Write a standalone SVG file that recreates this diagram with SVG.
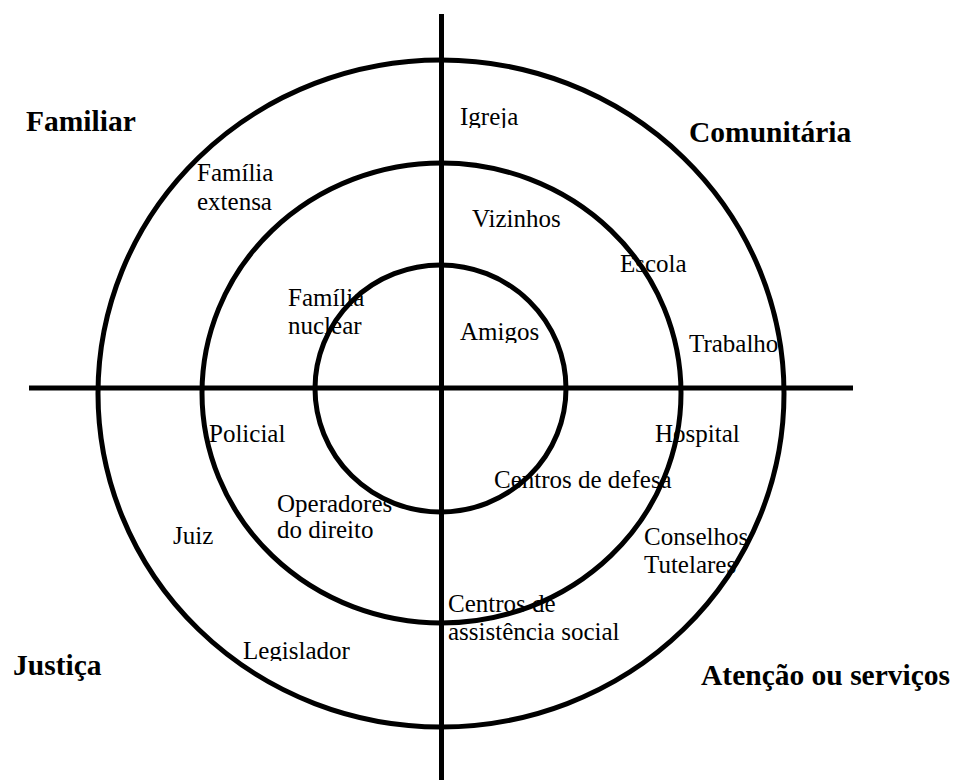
<svg xmlns="http://www.w3.org/2000/svg" width="956" height="780" viewBox="0 0 956 780">
<style>
.ring{fill:none;stroke:#000;stroke-width:5}
.axis{stroke:#000;stroke-width:5}
.lbl{font-family:"Liberation Serif","Times New Roman",serif;font-size:25px;fill:#000}
.sec{font-family:"Liberation Serif","Times New Roman",serif;font-size:29.5px;font-weight:bold;fill:#000}
</style>
<defs>
<clipPath id="cIgreja"><rect x="440" y="90" width="120" height="38"/></clipPath>
<clipPath id="cAmigos"><rect x="440" y="310" width="120" height="33"/></clipPath>
<clipPath id="cLeg"><rect x="230" y="630" width="150" height="31"/></clipPath>
</defs>
<g id="connectors">
<ellipse class="ring" cx="441" cy="393.5" rx="343" ry="333.5"/>
<ellipse class="ring" cx="441.5" cy="393" rx="239.5" ry="230"/>
<ellipse class="ring" cx="440.5" cy="388.5" rx="125.5" ry="123.5"/>
<line class="axis" x1="441.5" y1="14" x2="441.5" y2="780"/>
<line class="axis" x1="29" y1="388" x2="853" y2="388"/>
</g>
<g id="sector-familiar"><text class="sec" x="26" y="131">Familiar</text></g>
<g id="sector-comunitaria"><text class="sec" x="689" y="142">Comunitária</text></g>
<g id="sector-justica"><text class="sec" x="13" y="675">Justiça</text></g>
<g id="sector-atencao"><text class="sec" x="701" y="685">Atenção ou serviços</text></g>
<g id="igreja"><text class="lbl" x="460" y="125" clip-path="url(#cIgreja)">Igreja</text></g>
<g id="familia-extensa"><text class="lbl" x="197" y="181">Família</text><text class="lbl" x="197" y="210">extensa</text></g>
<g id="vizinhos"><text class="lbl" x="472" y="227">Vizinhos</text></g>
<g id="escola"><text class="lbl" x="620" y="272">Escola</text></g>
<g id="familia-nuclear"><text class="lbl" x="288" y="306">Família</text><text class="lbl" x="288" y="334">nuclear</text></g>
<g id="amigos"><text class="lbl" x="460" y="340" clip-path="url(#cAmigos)">Amigos</text></g>
<g id="trabalho"><text class="lbl" x="689" y="352">Trabalho</text></g>
<g id="policial"><text class="lbl" x="209" y="442">Policial</text></g>
<g id="hospital"><text class="lbl" x="655" y="442">Hospital</text></g>
<g id="centros-defesa"><text class="lbl" x="494" y="488">Centros de defesa</text></g>
<g id="operadores"><text class="lbl" x="277" y="512">Operadores</text><text class="lbl" x="277" y="538">do direito</text></g>
<g id="juiz"><text class="lbl" x="173" y="544">Juiz</text></g>
<g id="conselhos"><text class="lbl" x="644" y="545">Conselhos</text><text class="lbl" x="644" y="573">Tutelares</text></g>
<g id="centros-assistencia"><text class="lbl" x="448" y="612">Centros de</text><text class="lbl" x="448" y="640">assistência social</text></g>
<g id="legislador"><text class="lbl" x="243" y="659" clip-path="url(#cLeg)">Legislador</text></g>
</svg>
